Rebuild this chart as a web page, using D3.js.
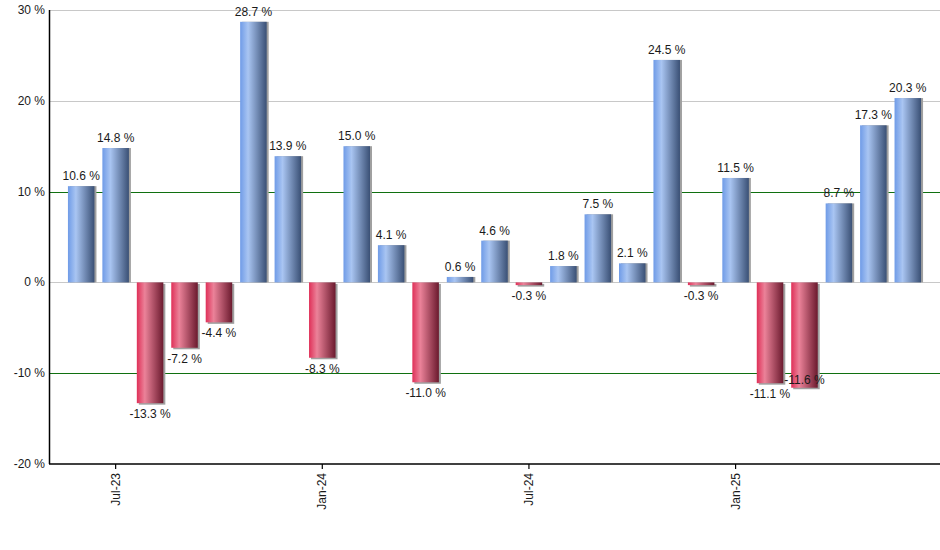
<!DOCTYPE html>
<html>
<head>
<meta charset="utf-8">
<script src="https://cdn.jsdelivr.net/npm/d3@7"></script>
<style>
  body { margin: 0; background: #fff; }
  text { font-family: Arial, "Liberation Sans", sans-serif; }
</style>
</head>
<body>
<div id="chart"></div>
<script>
// monthly returns, Jun-23 .. Jun-25
const months = ['Jun-23', 'Jul-23', 'Aug-23', 'Sep-23', 'Oct-23', 'Nov-23', 'Dec-23', 'Jan-24', 'Feb-24',
  'Mar-24', 'Apr-24', 'May-24', 'Jun-24', 'Jul-24', 'Aug-24', 'Sep-24', 'Oct-24', 'Nov-24', 'Dec-24',
  'Jan-25', 'Feb-25', 'Mar-25', 'Apr-25', 'May-25', 'Jun-25'];
const returns = [10.6, 14.8, -13.3, -7.2, -4.4, 28.7, 13.9, -8.3, 15.0, 4.1, -11.0, 0.6, 4.6, -0.3,
  1.8, 7.5, 2.1, 24.5, -0.3, 11.5, -11.1, -11.6, 8.7, 17.3, 20.3];
const tickMonths = ['Jul-23', 'Jan-24', 'Jul-24', 'Jan-25'];
const yTicks = [30, 20, 10, 0, -10, -20];

const width = 940, height = 550;
const margin = { top: 10, right: 0, bottom: 86, left: 49 };

const svg = d3.select('#chart').append('svg')
  .attr('width', width)
  .attr('height', height);

const x = d3.scaleBand()
  .domain(months)
  .range([margin.left, width - margin.right])
  .paddingInner(0.23)
  .paddingOuter(0.55);

const y = d3.scaleLinear()
  .domain([-20, 30])
  .range([height - margin.bottom, margin.top]);

const defs = svg.append('defs');
const grad = (id, c0, c1, c2) => {
  const g = defs.append('linearGradient').attr('id', id)
    .attr('x1', '0%').attr('x2', '100%').attr('y1', '0%').attr('y2', '0%');
  g.append('stop').attr('offset', '0%').attr('stop-color', c0);
  g.append('stop').attr('offset', '30%').attr('stop-color', c1);
  g.append('stop').attr('offset', '100%').attr('stop-color', c2);
};
grad('gradPos', '#6f9be7', '#a9c5f2', '#3a5075');
grad('gradNeg', '#df3058', '#eb8299', '#6b1a2e');

// gridlines
svg.append('g').selectAll('line')
  .data(yTicks.filter(d => d > -20))
  .enter().append('line')
  .attr('x1', margin.left)
  .attr('x2', width - margin.right)
  .attr('y1', d => Math.round(y(d)) + 0.5)
  .attr('y2', d => Math.round(y(d)) + 0.5)
  .attr('stroke', d => (d === 10 || d === -10) ? '#107010' : '#c8c8c8')
  .attr('stroke-width', 1.2);

// bars
const bars = svg.append('g');
const bw = x.bandwidth();
bars.selectAll('.shadow')
  .data(returns)
  .enter().append('rect')
  .attr('class', 'shadow')
  .attr('x', (d, i) => x(months[i]) + 2)
  .attr('y', d => Math.min(y(d), y(0)) + (d < 0 ? 1.5 : 0))
  .attr('width', bw)
  .attr('height', d => Math.abs(y(d) - y(0)))
  .attr('fill', '#a0a0a0');

bars.selectAll('.bar')
  .data(returns)
  .enter().append('rect')
  .attr('class', 'bar')
  .attr('x', (d, i) => x(months[i]))
  .attr('y', d => Math.min(y(d), y(0)))
  .attr('width', bw)
  .attr('height', d => Math.abs(y(d) - y(0)))
  .attr('fill', d => d >= 0 ? 'url(#gradPos)' : 'url(#gradNeg)');

// value labels, with a simple shift when a label runs into the one before it
const labels = svg.append('g')
  .attr('font-size', 12)
  .attr('fill', '#1a1a1a')
  .attr('text-anchor', 'middle');
let prev = null;
returns.forEach((d, i) => {
  const cx = x(months[i]) + bw / 2;
  let ty = d >= 0 ? y(d) - 6 : y(d) + 15;
  const t = labels.append('text')
    .attr('x', cx)
    .attr('y', ty)
    .text(d.toFixed(1) + ' %');
  let box = t.node().getBBox();
  if (prev && box.x < prev.x + prev.width && box.y < prev.y + prev.height && box.y + box.height > prev.y) {
    ty = d >= 0 ? y(d) + 12 : y(d) - 4;
    t.attr('y', ty);
    box = t.node().getBBox();
  }
  prev = box;
});

// axes
svg.append('line')
  .attr('x1', margin.left + 0.5).attr('x2', margin.left + 0.5)
  .attr('y1', margin.top).attr('y2', y(-20))
  .attr('stroke', '#000').attr('stroke-width', 1.5);
svg.append('line')
  .attr('x1', margin.left).attr('x2', width)
  .attr('y1', y(-20)).attr('y2', y(-20))
  .attr('stroke', '#000').attr('stroke-width', 1.5);

svg.append('g').selectAll('text')
  .data(yTicks)
  .enter().append('text')
  .attr('x', margin.left - 4)
  .attr('y', d => y(d) + 4)
  .attr('text-anchor', 'end')
  .attr('font-size', 12)
  .attr('fill', '#1a1a1a')
  .text(d => d + ' %');

const xt = svg.append('g').selectAll('g')
  .data(tickMonths)
  .enter().append('g')
  .attr('transform', d => 'translate(' + (x(d) + bw / 2) + ',' + y(-20) + ')');
xt.append('line')
  .attr('y1', 0).attr('y2', 5)
  .attr('stroke', '#000').attr('stroke-width', 1.2);
xt.append('text')
  .attr('transform', 'translate(4,9) rotate(-90)')
  .attr('text-anchor', 'end')
  .attr('font-size', 12)
  .attr('fill', '#1a1a1a')
  .text(d => d);
</script>
</body>
</html>
